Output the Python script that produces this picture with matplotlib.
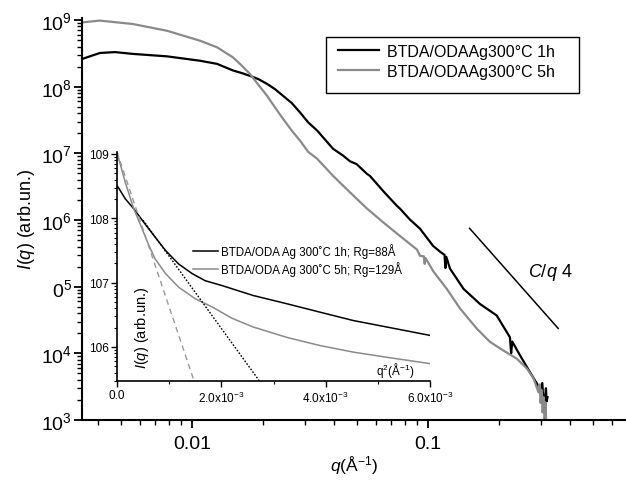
import numpy as np
import matplotlib
matplotlib.use("Agg")
import matplotlib.pyplot as plt
from matplotlib.patches import Rectangle
from matplotlib.ticker import LogLocator, NullFormatter, FixedLocator

plt.rcParams['font.family'] = ['Liberation Sans', 'DejaVu Sans']
plt.rcParams['mathtext.fontset'] = 'custom'
plt.rcParams['mathtext.rm'] = 'Liberation Sans'
plt.rcParams['mathtext.it'] = 'Liberation Sans:italic'
plt.rcParams['mathtext.bf'] = 'Liberation Sans:bold'

# SAXS curves, I(q) vs q
q_1h = [0.00342, 0.00407, 0.00472, 0.00562, 0.00783, 0.0108, 0.01276, 0.01492,
        0.01625, 0.01762, 0.0191, 0.0208, 0.02246, 0.0243, 0.02645, 0.0287,
        0.0311, 0.0339, 0.0396, 0.04375, 0.0467, 0.0498, 0.0552, 0.0567,
        0.0644, 0.0737, 0.0761, 0.0837, 0.0925, 0.105, 0.113, 0.1175, 0.1185,
        0.1195, 0.124, 0.1413, 0.166, 0.1954, 0.2224, 0.2250, 0.2275, 0.2455,
        0.2705, 0.2985, 0.305, 0.307, 0.313, 0.316, 0.318, 0.321]
I_1h = [2.6e8, 3.2e8, 3.3e8, 3.1e8, 2.85e8, 2.45e8, 2.2e8, 1.75e8,
        1.6e8, 1.45e8, 1.3e8, 1.1e8, 9.2e7, 7.3e7, 5.7e7, 4.1e7,
        2.9e7, 2.2e7, 1.17e7, 9.2e6, 7.6e6, 6.9e6, 4.9e6, 4.6e6,
        2.75e6, 1.64e6, 1.48e6, 1.02e6, 7.4e5, 4.1e5, 3.3e5, 3.0e5, 1.9e5,
        2.8e5, 1.86e5, 9.3e4, 5.5e4, 3.7e4, 1.74e4, 1.0e4, 1.5e4, 9.3e3,
        5.2e3, 2.95e3, 3.6e3, 2.4e3, 2.1e3, 3.0e3, 1.9e3, 2.2e3]

q_5h = [0.00342, 0.00407, 0.00562, 0.00783, 0.0108, 0.01276, 0.01492, 0.01625,
        0.01762, 0.0191, 0.0208, 0.02246, 0.0243, 0.02645, 0.0287, 0.0311,
        0.0339, 0.0396, 0.0467, 0.0552, 0.0644, 0.0761, 0.0898, 0.0925, 0.0960,
        0.0968, 0.0975, 0.1053, 0.1200, 0.1367, 0.1609, 0.1833, 0.2088, 0.2379,
        0.2625, 0.2800, 0.2938, 0.297, 0.300, 0.303, 0.306, 0.309, 0.312,
        0.315, 0.317]
I_5h = [9.2e8, 9.8e8, 8.7e8, 6.9e8, 4.9e8, 3.9e8, 2.75e8, 2.07e8,
        1.55e8, 1.07e8, 7.3e7, 4.9e7, 3.3e7, 2.2e7, 1.55e7, 1.05e7,
        8.3e6, 4.6e6, 2.6e6, 1.48e6, 9.3e5, 5.75e5, 3.6e5, 2.9e5, 2.85e5,
        2.2e5, 2.7e5, 1.7e5, 9.3e4, 4.7e4, 2.35e4, 1.48e4, 1.1e4, 8.3e3,
        5.9e3, 4.2e3, 2.6e3, 3.4e3, 1.8e3, 2.8e3, 1.3e3, 2.2e3, 9e2,
        1.8e3, 8e2]

# Porod guide line C/q^4
porod_q = [0.150, 0.356]
porod_C = 380.0

# Guinier region (inset): I(q) vs q^2
q2_1h = [0.0, 0.00016, 0.00032, 0.00054, 0.00073, 0.00093, 0.00118, 0.00144,
         0.00169, 0.00201, 0.00261, 0.00325, 0.00389, 0.00453, 0.00517, 0.006]
Ig_1h = [3.24e8, 2.0e8, 1.41e8, 8.1e7, 5.1e7, 3.16e7, 1.95e7, 1.38e7,
         1.07e7, 9.0e6, 6.3e6, 4.7e6, 3.47e6, 2.57e6, 2.04e6, 1.51e6]
q2_5h = [0.0, 0.00016, 0.00032, 0.00048, 0.00061, 0.00073, 0.00093, 0.00118,
         0.0015, 0.00182, 0.0022, 0.00261, 0.00325, 0.00389, 0.00453, 0.00517, 0.006]
Ig_5h = [1.05e9, 3.6e8, 1.41e8, 6.9e7, 3.8e7, 2.34e7, 1.38e7, 8.5e6,
         5.6e6, 4.2e6, 2.8e6, 2.04e6, 1.41e6, 1.05e6, 8.3e5, 6.9e5, 5.5e5]

# Guinier fits: I0, Rg (Å), q^2 span
fit_1h = dict(I0=10**8.53, Rg=88.0, q2=[0.0005, 0.003])
fit_5h = dict(I0=10**9.03, Rg=129.0, q2=[0.0, 0.0016])

GRAY = '#8a8a8a'
W, H = 626, 481

fig = plt.figure(figsize=(W / 100, H / 100), dpi=100)
ax = fig.add_axes([82/W, 60/H, 544/W, 402/H])

l1, = ax.plot(q_1h, I_1h, color='black', lw=1.6, label='BTDA/ODAAg300°C 1h')
l2, = ax.plot(q_5h, I_5h, color=GRAY, lw=1.6, label='BTDA/ODAAg300°C 5h')

pq = np.array(porod_q)
ax.plot(pq, porod_C / pq**4, color='black', lw=1.1)
ax.text(0.2655, 1.67e5, r'$\mathit{C/q}$ 4', fontsize=13, ha='left', va='center')

ax.set_xscale('log')
ax.set_yscale('log')
ax.set_xlim(0.00342, 0.69)
ax.set_ylim(1e3, 10**9.03)

ax.set_xticks([0.01, 0.1])
ax.set_xticklabels(['0.01', '0.1'])
ax.xaxis.set_minor_locator(LogLocator(base=10, subs=np.arange(2, 10)))
ax.xaxis.set_minor_formatter(NullFormatter())
ax.set_yticks([1e3, 1e4, 1e5, 1e6, 1e7, 1e8, 1e9])
ax.set_yticklabels([r'$\mathregular{10^{3}}$', r'$\mathregular{10^{4}}$',
                    r'$\mathregular{0^{5}}$', r'$\mathregular{10^{6}}$',
                    r'$\mathregular{10^{7}}$', r'$\mathregular{10^{8}}$',
                    r'$\mathregular{10^{9}}$'])
ax.yaxis.set_minor_locator(LogLocator(base=10, subs=np.arange(2, 10)))
ax.yaxis.set_minor_formatter(NullFormatter())

for s in ('top', 'right'):
    ax.spines[s].set_visible(False)
for s in ('left', 'bottom'):
    ax.spines[s].set_linewidth(1.5)
ax.tick_params(which='major', direction='out', length=6, width=1.3, labelsize=14)
ax.tick_params(which='minor', direction='out', length=3.5, width=1.0)
ax.tick_params(axis='x', which='major', pad=5)
ax.tick_params(axis='y', which='major', pad=1)

ax.set_xlabel(r'$q$(Å$^{\mathregular{-1}}$)', fontsize=12.5, labelpad=1)
ax.set_ylabel(r'$I(q)$ (arb.un.)', fontsize=13, labelpad=3)

# legend with a wide rectangular frame
ax.add_patch(Rectangle((326/W, 1 - 94/H), 253/W, 56/H, transform=fig.transFigure,
                       fill=False, edgecolor='black', lw=1.0, clip_on=False))
ax.legend(handles=[l1, l2], loc='upper left', bbox_to_anchor=(338/W, 1 - 45/H),
          bbox_transform=fig.transFigure, fontsize=11.5, frameon=False,
          handlelength=2.55, handletextpad=0.5, borderpad=0, labelspacing=0.3,
          borderaxespad=0)

# inset: Guinier plot
axi = fig.add_axes([117/W, 99/H, 313/W, 229/H])
axi.set_facecolor('none')
axi.plot(q2_1h, Ig_1h, color='black', lw=1.1,
         label='BTDA/ODA Ag 300˚C 1h; Rg=88Å')
axi.plot(q2_5h, Ig_5h, color=GRAY, lw=1.1,
         label='BTDA/ODA Ag 300˚C 5h; Rg=129Å')

for fit, col, ls in ((fit_1h, 'black', (0, (1.2, 1.2))),
                     (fit_5h, '#999999', (0, (4, 3)))):
    x2 = np.array(fit['q2'])
    axi.plot(x2, fit['I0'] * np.exp(-fit['Rg']**2 * x2 / 3.0),
             color=col, lw=1.0, linestyle=ls)

axi.set_yscale('log')
axi.set_xlim(0, 0.006)
axi.set_ylim(10**5.47, 10**9.03)
axi.set_xticks([0, 0.002, 0.004, 0.006])
axi.set_xticklabels(['0.0', r'$\mathregular{2.0x10^{-3}}$',
                     r'$\mathregular{4.0x10^{-3}}$', r'$\mathregular{6.0x10^{-3}}$'])
axi.xaxis.set_minor_locator(FixedLocator([0.001, 0.003, 0.005]))
axi.set_yticks([1e6, 1e7, 1e8, 1e9])
axi.set_yticklabels(['106', '107', '108', '109'])
axi.yaxis.set_minor_locator(LogLocator(base=10, subs=np.arange(2, 10)))
axi.yaxis.set_minor_formatter(NullFormatter())
for s in ('top', 'right'):
    axi.spines[s].set_visible(False)
for s in ('left', 'bottom'):
    axi.spines[s].set_linewidth(1.2)
axi.tick_params(which='major', direction='out', length=4, width=1.0, labelsize=8.5, pad=2)
axi.tick_params(which='minor', direction='out', length=2.5, width=0.8)

axi.text(0.08, 0.236, r'$I(q)$ (arb.un.)', transform=axi.transAxes,
         rotation=90, ha='center', va='center', fontsize=10.5)
axi.text(0.89, 0.05, r'q$^{\mathregular{2}}$(Å$^{\mathregular{-1}}$)',
         transform=axi.transAxes, ha='center', va='center', fontsize=8.5)

axi.legend(loc='upper left', bbox_to_anchor=(193/W, 1 - 244/H),
           bbox_transform=fig.transFigure, fontsize=8.3, frameon=False,
           handlelength=2.2, handletextpad=0.2, borderpad=0, labelspacing=0.3,
           borderaxespad=0)

fig.savefig('out.png', dpi=100)
